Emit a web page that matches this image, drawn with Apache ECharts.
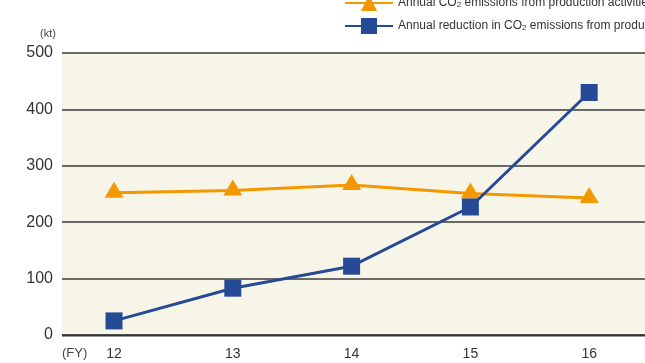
<!DOCTYPE html>
<html>
<head>
<meta charset="utf-8">
<script src="https://cdn.jsdelivr.net/npm/echarts@6/dist/echarts.min.js"></script>
<style>html,body{margin:0;padding:0;background:#fff;}#c{width:645px;height:363px;}</style>
</head>
<body>
<div id="c"></div>
<script>
const categories = ['12', '13', '14', '15', '16'];
const productionEmissions = [252, 256, 266, 251, 243];
const productReduction = [25, 83, 122, 227, 430];
const yTicks = [0, 100, 200, 300, 400, 500];

const chart = echarts.init(document.getElementById('c'));
const narrow = "'Liberation Sans Narrow', 'Arial Narrow', 'Liberation Sans', sans-serif";
const sans = "'Liberation Sans', Arial, sans-serif";
const orange = '#f39800';
const blue = '#274a96';

chart.setOption({
  animation: false,
  grid: { left: 62, right: 0, top: 53, bottom: 28, show: true, backgroundColor: '#f7f5e7', borderWidth: 0 },
  legend: {
    orient: 'vertical', left: 344, top: -5, padding: 0, itemWidth: 48, itemHeight: 20, itemGap: 7,
    textStyle: { fontFamily: sans, fontSize: 12, color: '#333',
      rich: { sub: { fontFamily: sans, fontSize: 8, color: '#333', verticalAlign: 'bottom', padding: [4, 0, 0, 0] }, n: { fontFamily: sans, fontSize: 12, color: '#333' } } },
    formatter: function (name) {
      return name.replace('CO2', '{n|CO}{sub|2}');
    },
    data: ['Annual CO2 emissions from production activities', 'Annual reduction in CO2 emissions from products']
  },
  xAxis: {
    type: 'value', min: 11.562, max: 16.47,
    axisLine: { show: false }, axisTick: { show: false }, splitLine: { show: false },
    axisLabel: { customValues: categories.map(Number), fontFamily: sans, fontSize: 14, color: '#333', margin: 12,
      formatter: v => String(v) }
  },
  yAxis: {
    type: 'value', min: yTicks[0], max: yTicks[yTicks.length - 1], interval: 100,
    axisLine: { show: false }, axisTick: { show: false },
    axisLabel: { fontFamily: sans, fontSize: 16, color: '#333', margin: 9 },
    splitLine: { lineStyle: { color: '#3a3a3a', width: 1.5 } }
  },
  graphic: [
    { type: 'text', left: 40, top: 28, style: { text: '(kt)', font: "11px " + narrow, fill: '#444' } },
    { type: 'text', left: 62, top: 347, style: { text: '(FY)', font: "13px " + narrow, fill: '#444' } },
    { type: 'line', shape: { x1: 62, y1: 335.5, x2: 645, y2: 335.5 }, style: { stroke: '#333', lineWidth: 2 }, z: 10 }
  ],
  series: [
    {
      name: 'Annual CO2 emissions from production activities', type: 'line',
      data: categories.map((c, i) => [Number(c), productionEmissions[i]]),
      symbol: 'triangle', symbolSize: [19, 16], symbolOffset: [0, -3],
      lineStyle: { color: orange, width: 3 }, itemStyle: { color: orange }, z: 3
    },
    {
      name: 'Annual reduction in CO2 emissions from products', type: 'line',
      data: categories.map((c, i) => [Number(c), productReduction[i]]),
      symbol: 'rect', symbolSize: 17,
      lineStyle: { color: blue, width: 3 }, itemStyle: { color: blue }, z: 4
    }
  ]
});
</script>
</body>
</html>
